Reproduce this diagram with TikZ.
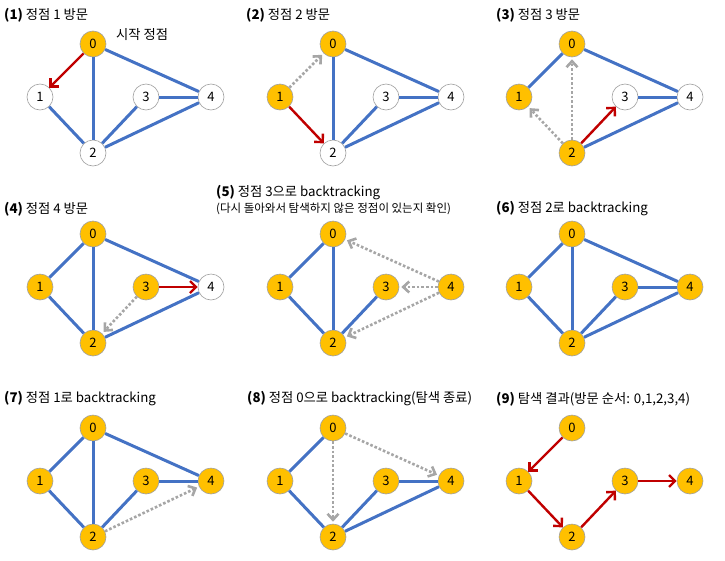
\documentclass[tikz,border=0pt]{standalone}
\usepackage{fontspec}
\setmainfont{Noto Sans CJK KR}
\usetikzlibrary{arrows.meta}
\definecolor{vyel}{HTML}{FFC000}
\definecolor{eblue}{HTML}{4472C4}
\definecolor{ared}{HTML}{C00000}
\definecolor{agray}{HTML}{A6A6A6}
\definecolor{nbord}{HTML}{A0A0A0}
\tikzset{
  vnode/.style={circle, draw=nbord, line width=0.6pt, minimum size=26pt, inner sep=0pt, font=\fontsize{13}{13}\selectfont},
  vis/.style={vnode, fill=vyel},
  unv/.style={vnode, fill=white},
  edge/.style={draw=eblue, line width=3pt},
  redarr/.style={draw=ared, line width=2.4pt, -{Straight Barb[length=6pt,width=12pt]}},
  grayarr/.style={draw=agray, line width=2.6pt, dash pattern=on 2.6pt off 2pt, -{Straight Barb[length=6pt,width=11pt]}, shorten >=2pt},
  ttl/.style={anchor=west, inner sep=0pt, font=\fontsize{13.3}{13.3}\selectfont},
  sub/.style={anchor=west, inner sep=0pt, font=\fontsize{11.5}{11.5}\selectfont},
}
\newcommand\gnodes[8]{%
  \node[#4] (#1-0) at (#2+93,#3+44) {0};
  \node[#5] (#1-1) at (#2+40,#3+97) {1};
  \node[#6] (#1-2) at (#2+93,#3+153) {2};
  \node[#7] (#1-3) at (#2+146,#3+97) {3};
  \node[#8] (#1-4) at (#2+211,#3+97) {4};
}
\begin{document}
\begin{tikzpicture}[x=1pt,y=-1pt]
\useasboundingbox (0,0) rectangle (725,560);
% ---------- panel 1
\node[ttl] (t1) at (4,15) {\textbf{(1)} 정점 1 방문};
\gnodes{a}{0}{0}{vis}{unv}{unv}{unv}{unv}
\node[ttl] (start) at (116,35) {시작 정점};
\draw[edge] (a-0) -- (a-2);
\draw[edge] (a-0) -- (a-4);
\draw[edge] (a-1) -- (a-2);
\draw[edge] (a-2) -- (a-3);
\draw[edge] (a-2) -- (a-4);
\draw[edge] (a-3) -- (a-4);
\draw[redarr] (a-0) -- (a-1);
% ---------- panel 2
\node[ttl] (t2) at (246,15) {\textbf{(2)} 정점 2 방문};
\gnodes{b}{240}{0}{vis}{vis}{unv}{unv}{unv}
\draw[edge] (b-0) -- (b-2);
\draw[edge] (b-0) -- (b-4);
\draw[edge] (b-2) -- (b-3);
\draw[edge] (b-2) -- (b-4);
\draw[edge] (b-3) -- (b-4);
\draw[grayarr] (b-1) -- (b-0);
\draw[redarr] (b-1) -- (b-2);
% ---------- panel 3
\node[ttl] (t3) at (496,15) {\textbf{(3)} 정점 3 방문};
\gnodes{c}{479}{0}{vis}{vis}{vis}{unv}{unv}
\draw[edge] (c-0) -- (c-1);
\draw[edge] (c-0) -- (c-4);
\draw[edge] (c-2) -- (c-4);
\draw[edge] (c-3) -- (c-4);
\draw[grayarr] (c-2) -- (c-0);
\draw[grayarr] (c-2) -- (c-1);
\draw[redarr] (c-2) -- (c-3);
% ---------- panel 4
\node[ttl] (t4) at (4,209) {\textbf{(4)} 정점 4 방문};
\gnodes{d}{0}{190}{vis}{vis}{vis}{vis}{unv}
\draw[edge] (d-0) -- (d-1);
\draw[edge] (d-0) -- (d-2);
\draw[edge] (d-0) -- (d-4);
\draw[edge] (d-1) -- (d-2);
\draw[edge] (d-2) -- (d-4);
\draw[grayarr] (d-3) -- (d-2);
\draw[redarr] (d-3) -- (d-4);
% ---------- panel 5
\node[ttl] (t5) at (216,193) {\textbf{(5)} 정점 3으로 backtracking};
\node[sub] (t5b) at (216,209) {(다시 돌아와서 탐색하지 않은 정점이 있는지 확인)};
\gnodes{e}{240}{190}{vis}{vis}{vis}{vis}{vis}
\draw[edge] (e-0) -- (e-1);
\draw[edge] (e-0) -- (e-2);
\draw[edge] (e-1) -- (e-2);
\draw[edge] (e-2) -- (e-3);
\draw[grayarr] (e-4) -- (e-0);
\draw[grayarr] (e-4) -- (e-3);
\draw[grayarr] (e-4) -- (e-2);
% ---------- panel 6
\node[ttl] (t6) at (496,209) {\textbf{(6)} 정점 2로 backtracking};
\gnodes{f}{479}{190}{vis}{vis}{vis}{vis}{vis}
\draw[edge] (f-0) -- (f-1);
\draw[edge] (f-0) -- (f-2);
\draw[edge] (f-0) -- (f-4);
\draw[edge] (f-1) -- (f-2);
\draw[edge] (f-2) -- (f-3);
\draw[edge] (f-2) -- (f-4);
\draw[edge] (f-3) -- (f-4);
% ---------- panel 7
\node[ttl] (t7) at (4,399) {\textbf{(7)} 정점 1로 backtracking};
\gnodes{g}{0}{384}{vis}{vis}{vis}{vis}{vis}
\draw[edge] (g-0) -- (g-1);
\draw[edge] (g-0) -- (g-2);
\draw[edge] (g-0) -- (g-4);
\draw[edge] (g-1) -- (g-2);
\draw[edge] (g-2) -- (g-3);
\draw[edge] (g-3) -- (g-4);
\draw[grayarr] (g-2) -- (g-4);
% ---------- panel 8
\node[ttl] (t8) at (247,399) {\textbf{(8)} 정점 0으로 backtracking(탐색 종료)};
\gnodes{h}{240}{384}{vis}{vis}{vis}{vis}{vis}
\draw[edge] (h-0) -- (h-1);
\draw[edge] (h-1) -- (h-2);
\draw[edge] (h-2) -- (h-3);
\draw[edge] (h-2) -- (h-4);
\draw[edge] (h-3) -- (h-4);
\draw[grayarr] (h-0) -- (h-2);
\draw[grayarr] (h-0) -- (h-4);
% ---------- panel 9
\node[ttl] (t9) at (496,399) {\textbf{(9)} 탐색 결과(방문 순서: 0,1,2,3,4)};
\gnodes{k}{479}{384}{vis}{vis}{vis}{vis}{vis}
\draw[redarr] (k-0) -- (k-1);
\draw[redarr] (k-1) -- (k-2);
\draw[redarr] (k-2) -- (k-3);
\draw[redarr] (k-3) -- (k-4);
\end{tikzpicture}
\end{document}
